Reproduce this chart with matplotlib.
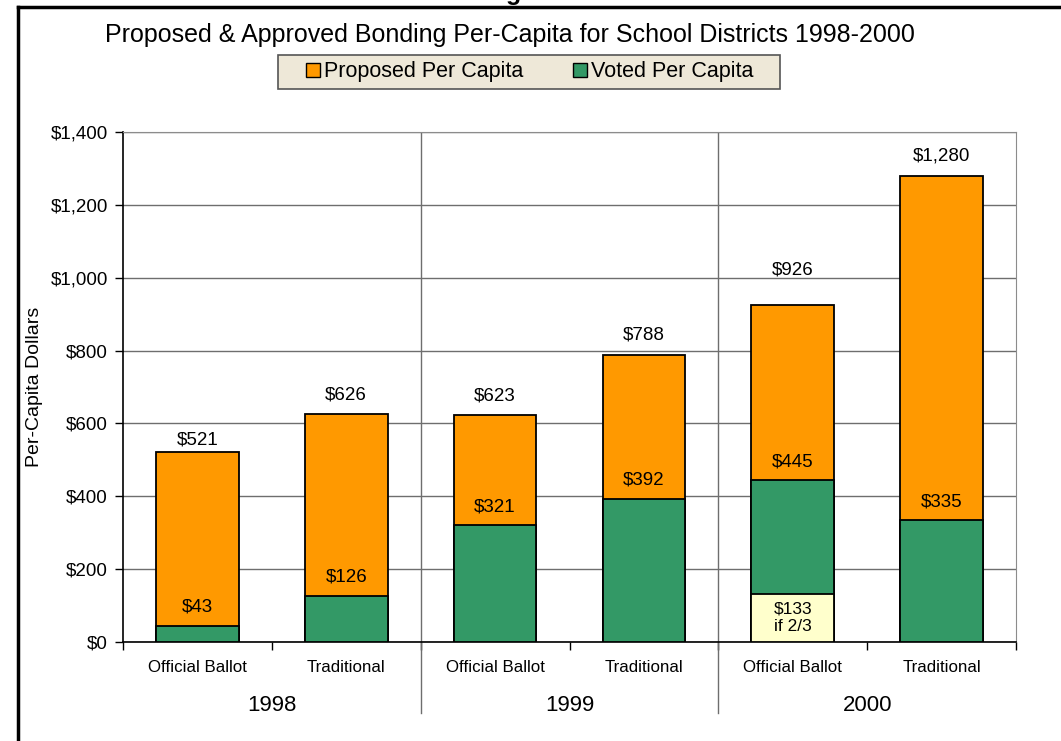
import matplotlib.pyplot as plt
import matplotlib.lines as mlines
import matplotlib.patches as mpatches
from matplotlib.ticker import FuncFormatter
import numpy as np

plt.rcParams['font.family'] = ['Liberation Sans', 'DejaVu Sans']

# bonding per capita, two ballot types per year
years = ["1998", "1999", "2000"]
ballots = ["Official Ballot", "Traditional"] * 3
proposed = [521, 626, 623, 788, 926, 1280]
voted = [43, 126, 321, 392, 445, 335]
two_thirds = 133        # 2000 official ballot, if 2/3 majority needed
two_thirds_idx = 4

# label lift above each bar top (points)
total_lift = [9, 14, 14, 14, 25, 14]
voted_lift = [14, 14, 13, 14, 13, 13]

orange = "#FF9900"
green = "#339966"
pale = "#FFFFCC"
grid_c = "#6e6e6e"

fig = plt.figure(figsize=(10.61, 7.41), dpi=100)
ax = fig.add_axes([123/1061, 1 - 642/741, 893/1061, 510/741])

x = np.arange(len(proposed))
w = 0.555
ax.bar(x, proposed, w, color=orange, edgecolor="black", linewidth=1.3, zorder=3)
ax.bar(x, voted, w, color=green, edgecolor="black", linewidth=1.3, zorder=3)
ax.bar(x[two_thirds_idx], two_thirds, w, color=pale, edgecolor="black", linewidth=1.3, zorder=3)

for i in range(len(proposed)):
    ax.annotate(f"${proposed[i]:,}", (x[i], proposed[i]), xytext=(0, total_lift[i]),
                textcoords="offset points", ha="center", va="center", fontsize=13.5)
    ax.annotate(f"${voted[i]:,}", (x[i], voted[i]), xytext=(0, voted_lift[i]),
                textcoords="offset points", ha="center", va="center", fontsize=13.5)
ax.text(x[two_thirds_idx], two_thirds / 2, f"${two_thirds}\nif 2/3", ha="center", va="center",
        fontsize=12.5, linespacing=1.2, zorder=4)

ax.set_xlim(-0.5, 5.5)
ax.set_ylim(0, 1400)
ax.set_yticks(np.arange(0, 1401, 200))
ax.yaxis.set_major_formatter(FuncFormatter(lambda v, p: f"${v:,.0f}"))
ax.tick_params(axis="y", labelsize=13.5, length=6, width=1, pad=5)
ax.set_xticks(np.arange(-0.5, 5.6, 1))
ax.set_xticklabels([])
ax.tick_params(axis="x", length=6, width=1)
ax.grid(axis="y", color=grid_c, linewidth=1, zorder=1)
for s in ["top", "right"]:
    ax.spines[s].set_color("#8c8c8c")
for s in ["left", "bottom"]:
    ax.spines[s].set_color("black")
    ax.spines[s].set_linewidth(1.2)
ax.set_ylabel("Per-Capita Dollars", fontsize=14)
ax.yaxis.set_label_coords(-80/893, 0.5)

# group separators running down through the category labels
for b in [1.5, 3.5]:
    ax.axvline(b, color=grid_c, linewidth=1, zorder=1)
    ax.plot([b, b], [0, -196], color=grid_c, linewidth=1, clip_on=False)

for i, name in enumerate(ballots):
    ax.text(x[i], -69, name, ha="center", va="center", fontsize=12.2)
for j, yr in enumerate(years):
    ax.text(2 * j + 0.5, -173, yr, ha="center", va="center", fontsize=16)

fig.text(509.5/1061, 1 - 35/741, "Proposed & Approved Bonding Per-Capita for School Districts 1998-2000",
         ha="center", va="center", fontsize=18)

# legend box drawn separately so its padding can be set freely
fig.add_artist(mpatches.Rectangle((278/1061, 1 - 89/741), 502/1061, 34/741, transform=fig.transFigure,
                                  facecolor="#EEE8D8", edgecolor="#555555", linewidth=1.2))
handles = [mpatches.Patch(facecolor=orange, edgecolor="black", label="Proposed Per Capita"),
           mpatches.Patch(facecolor=green, edgecolor="black", label="Voted Per Capita")]
fig.legend(handles=handles, loc="center", bbox_to_anchor=(530/1061, 1 - 72/741), ncol=2,
           fontsize=15.5, frameon=False, handlelength=0.65, handleheight=0.65,
           handletextpad=0.2, columnspacing=2.3, borderpad=0.2)

# page frame and the clipped heading above it
fig.add_artist(mlines.Line2D([18/1061, 18/1061], [0, 1 - 7/741], color="black", linewidth=2.5))
fig.add_artist(mlines.Line2D([18/1061, 1], [1 - 7/741, 1 - 7/741], color="black", linewidth=2.5))
fig.text(514/1061, 1.0, "g", ha="center", va="baseline", fontsize=18, fontweight="bold")

fig.savefig("out.png", dpi=100)
